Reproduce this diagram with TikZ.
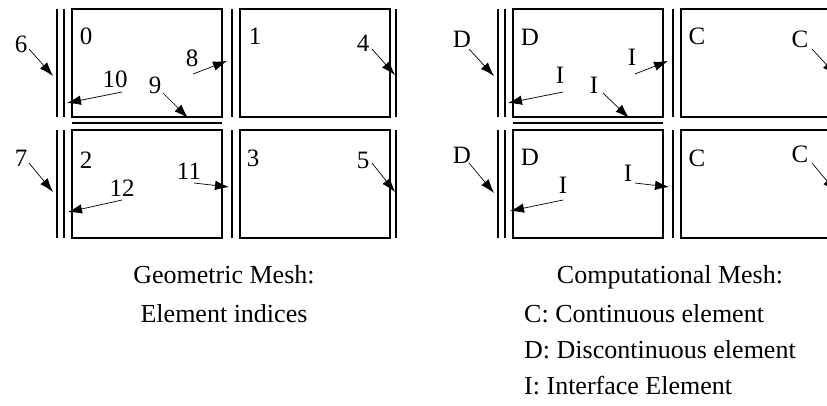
\documentclass[tikz,border=0pt]{standalone}
\usepackage{fontspec}
\setmainfont{Liberation Serif}
\usepackage{tikz}
\usetikzlibrary{calc,arrows.meta}

\tikzset{
  elem/.style={draw, line width=1.7pt, minimum width=150pt, minimum height=108pt, inner sep=0pt},
  iface/.style={line width=1.3pt},
  lbl/.style={font=\fontsize{25}{29}\selectfont, inner sep=0pt},
  capt/.style={font=\fontsize{26}{30}\selectfont, inner sep=0pt},
  ptr/.style={-{Latex[length=14pt,width=9.5pt]}, line width=0.7pt},
}

\begin{document}
\begin{tikzpicture}[x=1pt, y=-1pt]
    \clip (0,0) rectangle (827,405);

    % Element boxes, geometric mesh
    \node[elem] (e0) at (147,63) {};
    \node[elem] (e1) at (315,63) {};
    \node[elem] (e2) at (147,184) {};
    \node[elem] (e3) at (315,184) {};

    % Element boxes, computational mesh
    \node[elem] (d0) at (588,63) {};
    \node[elem] (c1) at (756,63) {};
    \node[elem] (d2) at (588,184) {};
    \node[elem] (c3) at (756,184) {};

    % Boundary and interface lines (same in both meshes)
    \foreach \dx in {0,441} {
        \foreach \lx in {57,64,232,396} {
            \draw[iface] (\lx+\dx,9) -- (\lx+\dx,117);
            \draw[iface] (\lx+\dx,130) -- (\lx+\dx,238);
        }
        \draw[iface] (72+\dx,123) -- (222+\dx,123);
    }

    % Labels, geometric mesh
    \node[lbl] (n6) at (21,44) {6};
    \node[lbl] (n0) at (86,36) {0};
    \node[lbl] (n10) at (115,79) {10};
    \node[lbl] (n9) at (155,85) {9};
    \node[lbl] (n8) at (192,58) {8};
    \node[lbl] (n1) at (255,36) {1};
    \node[lbl] (n4) at (363,43) {4};
    \node[lbl] (n7) at (21,158) {7};
    \node[lbl] (n2) at (86,160) {2};
    \node[lbl] (n12) at (122,188) {12};
    \node[lbl] (n11) at (189,171) {11};
    \node[lbl] (n3) at (253,158) {3};
    \node[lbl] (n5) at (363,160) {5};

    \draw[ptr] ($(n6)+(8,5)$) -- (53,76);
    \draw[ptr] ($(n10)+(7,13)$) -- (67,103);
    \draw[ptr] ($(n9)+(8,8)$) -- (188,118);
    \draw[ptr] ($(n8)+(1,16)$) -- (227,61);
    \draw[ptr] ($(n4)+(9,6)$) -- (395,75);
    \draw[ptr] ($(n7)+(8,5)$) -- (53,192);
    \draw[ptr] ($(n12)+(0,12)$) -- (68,212);
    \draw[ptr] ($(n11)+(5,12)$) -- (229,187);
    \draw[ptr] ($(n5)+(9,3)$) -- (395,192);

    % Labels, computational mesh
    \node[lbl] (da) at (462,39) {D};
    \node[lbl] (db) at (530,37) {D};
    \node[lbl] (ia) at (560,75) {I};
    \node[lbl] (ib) at (594,85) {I};
    \node[lbl] (ic) at (632,57) {I};
    \node[lbl] (ca) at (697,36) {C};
    \node[lbl] (cb) at (800,39) {C};
    \node[lbl] (dc) at (462,155) {D};
    \node[lbl] (dd) at (530,157) {D};
    \node[lbl] (id) at (563,185) {I};
    \node[lbl] (ie) at (628,173) {I};
    \node[lbl] (cc) at (697,158) {C};
    \node[lbl] (cd) at (800,154) {C};

    \draw[ptr] ($(da)+(7,10)$) -- (494,76);
    \draw[ptr] ($(ia)+(3,17)$) -- (508,103);
    \draw[ptr] ($(ib)+(9,8)$) -- (629,118);
    \draw[ptr] ($(ic)+(3,17)$) -- (668,61);
    \draw[ptr] ($(cb)+(12,10)$) -- (836,75);
    \draw[ptr] ($(dc)+(7,8)$) -- (494,193);
    \draw[ptr] ($(id)+(0,15)$) -- (510,211);
    \draw[ptr] ($(ie)+(7,10)$) -- (669,187);
    \draw[ptr] ($(cd)+(12,9)$) -- (836,192);

    % Captions
    \node[capt, anchor=base] (gcap) at (224,283) {Geometric Mesh:};
    \node[capt, anchor=base] (gidx) at (224,322) {Element indices};
    \node[capt, anchor=base] (ccap) at (670,283) {Computational Mesh:};
    \node[capt, anchor=base west] (kc) at (524,322) {C: Continuous element};
    \node[capt, anchor=base west] (kd) at (524,358) {D: Discontinuous element};
    \node[capt, anchor=base west] (ki) at (524,394) {I: Interface Element};
\end{tikzpicture}
\end{document}
